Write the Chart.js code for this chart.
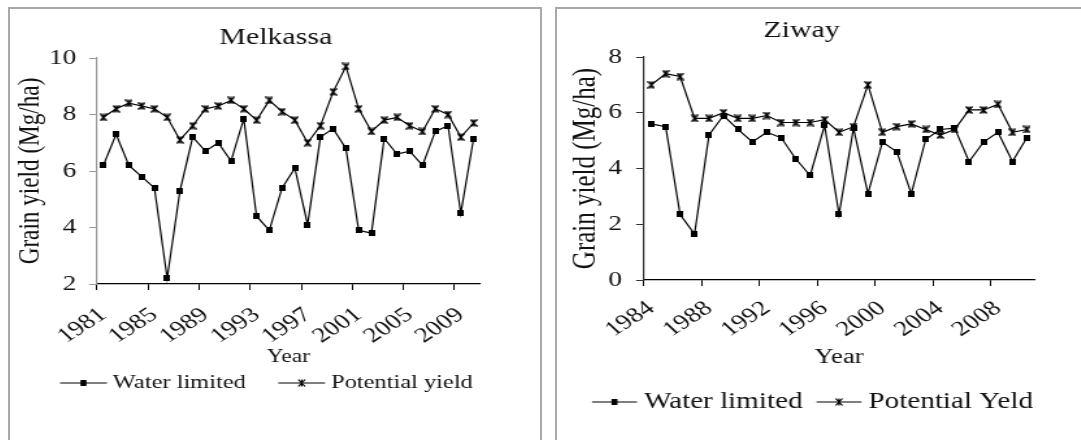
<!DOCTYPE html>
<html>
<head>
<meta charset="utf-8">
<title>Grain yield - Melkassa and Ziway</title>
<script src="https://cdn.jsdelivr.net/npm/chart.js"></script>
<style>
    body {
        margin: 0;
        background: #fff;
        width: 1081px;
        height: 440px;
        overflow: hidden;
        position: relative;
    }
    .box {
        position: absolute;
        top: 7px;
        height: 460px;
        border: 2px solid #a9a9a9;
        box-sizing: border-box;
        overflow: hidden;
    }
    #boxLeft { left: 8px; width: 534px; }
    #boxRight { left: 555px; width: 560px; }
    /* charts are drawn narrow and stretched sideways */
    canvas {
        position: absolute;
        left: 0;
        top: 0;
        transform: scaleX(1.3);
        transform-origin: 0 0;
    }
</style>
<script>
    // Melkassa 1981-2010
    const melkassaYears = ['1981','1982','1983','1984','1985','1986','1987','1988','1989','1990',
        '1991','1992','1993','1994','1995','1996','1997','1998','1999','2000',
        '2001','2002','2003','2004','2005','2006','2007','2008','2009','2010'];
    const melkassaWater = [6.2, 7.3, 6.2, 5.8, 5.4, 2.2, 5.3, 7.2, 6.7, 7.0,
        6.35, 7.85, 4.4, 3.9, 5.4, 6.1, 4.1, 7.2, 7.5, 6.8,
        3.9, 3.8, 7.15, 6.6, 6.7, 6.2, 7.4, 7.6, 4.5, 7.15];
    const melkassaPotential = [7.9, 8.2, 8.4, 8.3, 8.2, 7.9, 7.1, 7.6, 8.2, 8.3,
        8.5, 8.2, 7.8, 8.5, 8.1, 7.8, 7.0, 7.6, 8.8, 9.7,
        8.2, 7.4, 7.8, 7.9, 7.6, 7.4, 8.2, 8.0, 7.2, 7.7];
    const melkassaTicks = [2, 4, 6, 8, 10];

    // Ziway 1984-2010
    const ziwayYears = ['1984','1985','1986','1987','1988','1989','1990','1991','1992','1993',
        '1994','1995','1996','1997','1998','1999','2000','2001','2002','2003',
        '2004','2005','2006','2007','2008','2009','2010'];
    const ziwayWater = [5.6, 5.5, 2.35, 1.65, 5.2, 5.9, 5.4, 4.95, 5.3, 5.1,
        4.35, 3.75, 5.55, 2.35, 5.45, 3.1, 4.95, 4.6, 3.1, 5.05,
        5.4, 5.45, 4.25, 4.95, 5.3, 4.25, 5.1];
    const ziwayPotential = [7.0, 7.4, 7.3, 5.8, 5.8, 6.0, 5.8, 5.8, 5.9, 5.65,
        5.65, 5.65, 5.75, 5.3, 5.5, 7.0, 5.3, 5.5, 5.6, 5.4,
        5.2, 5.4, 6.1, 6.1, 6.3, 5.3, 5.4];
    const ziwayTicks = [0, 2, 4, 6, 8];

    const SERIF = '"Liberation Serif", "Times New Roman", serif';
    const INK = '#111';

    // asterisk marker: an X with a vertical bar
    function drawStar(g, cx, cy, rx, ry) {
        g.beginPath();
        g.moveTo(cx - rx, cy - ry); g.lineTo(cx + rx, cy + ry);
        g.moveTo(cx + rx, cy - ry); g.lineTo(cx - rx, cy + ry);
        g.moveTo(cx, cy - ry); g.lineTo(cx, cy + ry);
        g.stroke();
    }

    function starImage(w, h) {
        const c = document.createElement('canvas');
        c.width = w; c.height = h;
        const g = c.getContext('2d');
        g.strokeStyle = '#000';
        g.lineWidth = 1.3;
        drawStar(g, w / 2, h / 2, w / 2 - 0.5, h / 2 - 0.5);
        return c;
    }

    function squareImage(w, h) {
        const c = document.createElement('canvas');
        c.width = w; c.height = h;
        const g = c.getContext('2d');
        g.fillStyle = '#000';
        g.fillRect(0, 0, w, h);
        return c;
    }

    // legend: short line with the series marker, then the label
    const lineLegend = {
        id: 'lineLegend',
        afterDraw(chart, args, opts) {
            const g = chart.ctx;
            let x = opts.x;
            const y = opts.y;
            g.save();
            g.font = opts.size + 'px ' + SERIF;
            g.textBaseline = 'middle';
            g.textAlign = 'left';
            chart.data.datasets.forEach(function(ds, i) {
                g.strokeStyle = '#000';
                g.lineWidth = 1.2;
                g.beginPath();
                g.moveTo(x, y); g.lineTo(x + opts.lineLen, y);
                g.stroke();
                const mx = x + opts.lineLen / 2;
                if (i === 0) {
                    g.fillStyle = '#000';
                    g.fillRect(mx - 2.3, y - 3, 4.6, 6);
                } else {
                    drawStar(g, mx, y, 2.6, 3.5);
                }
                const tx = x + opts.lineLen + opts.textGap;
                g.fillStyle = INK;
                g.fillText(ds.label, tx, y);
                x = tx + g.measureText(ds.label).width + opts.itemGap;
            });
            g.restore();
        }
    };

    function makeChart(id, cfg) {
        const ctx = document.getElementById(id).getContext('2d');
        const scales = {
            x: {
                type: 'category',
                offset: true,
                border: { color: '#000', width: 1.2 },
                grid: {
                    offset: true,
                    drawOnChartArea: false,
                    tickLength: 6,
                    tickColor: function(c) {
                        return c.index !== undefined && c.index % 4 === 0 ? '#000' : 'rgba(0,0,0,0)';
                    }
                },
                afterFit: function(s) { s.height = cfg.xAxisHeight; },
                ticks: {
                    autoSkip: false,
                    minRotation: 40,
                    maxRotation: 40,
                    padding: cfg.xTickPad,
                    color: INK,
                    font: { family: SERIF, size: cfg.tickSize },
                    callback: function(v, i) {
                        return i % 4 === 0 ? cfg.years[i] : '';
                    }
                },
                title: {
                    display: true,
                    text: 'Year',
                    color: INK,
                    font: { family: SERIF, size: cfg.axisTitleSize },
                    padding: { top: 0, bottom: 0 }
                }
            },
            y: {
                min: cfg.yTicks[0],
                max: cfg.yTicks[cfg.yTicks.length - 1],
                border: { color: cfg.yLineColor, width: 1.2 },
                grid: { drawOnChartArea: false, tickLength: 6, tickColor: cfg.yLineColor },
                afterBuildTicks: function(axis) {
                    axis.ticks = cfg.yTicks.map(function(v) { return { value: v }; });
                },
                afterFit: function(s) { s.width = cfg.yAxisWidth; },
                ticks: {
                    padding: cfg.yTickPad,
                    color: INK,
                    font: { family: SERIF, size: cfg.tickSize }
                },
                title: {
                    display: true,
                    text: 'Grain yield (Mg/ha)',
                    color: INK,
                    font: { family: SERIF, size: cfg.yTitleSize },
                    padding: { top: cfg.yTitlePad, bottom: 0 }
                }
            }
        };
        if (cfg.rightGap) {
            // empty strip to the right of the plot
            scales.gap = {
                type: 'linear',
                position: 'right',
                grid: { display: false },
                border: { display: false },
                ticks: { display: false },
                afterFit: function(s) { s.width = cfg.rightGap; }
            };
        }
        return new Chart(ctx, {
            type: 'line',
            data: {
                labels: cfg.years,
                datasets: [{
                    label: 'Water limited',
                    data: cfg.water,
                    borderColor: '#000',
                    borderWidth: 1.2,
                    pointStyle: squareImage(5, 6),
                    tension: 0
                }, {
                    label: cfg.potentialLabel,
                    data: cfg.potential,
                    borderColor: '#000',
                    borderWidth: 1.2,
                    pointStyle: starImage(6, 8),
                    tension: 0
                }]
            },
            options: {
                responsive: false,
                animation: false,
                devicePixelRatio: 1,
                layout: { padding: cfg.padding },
                plugins: {
                    title: {
                        display: true,
                        text: cfg.title,
                        color: INK,
                        font: { family: SERIF, size: cfg.titleSize, weight: 'normal' },
                        padding: cfg.titlePad
                    },
                    legend: { display: false },
                    tooltip: { enabled: false },
                    lineLegend: cfg.legend
                },
                scales: scales
            },
            plugins: [lineLegend]
        });
    }

    document.addEventListener('DOMContentLoaded', function() {
        makeChart('melkassa', {
            title: 'Melkassa',
            years: melkassaYears,
            water: melkassaWater,
            potential: melkassaPotential,
            potentialLabel: 'Potential yield',
            yTicks: melkassaTicks,
            padding: { top: 15.2, left: 0, right: 0, bottom: 36.2 },
            rightGap: 47.5,
            titleSize: 23, titlePad: { top: 0, bottom: 6.2 },
            tickSize: 21, axisTitleSize: 18, yTitleSize: 23.2, yTitlePad: 2,
            xAxisHeight: 83.8, xTickPad: 12.5,
            yAxisWidth: 66.9, yTickPad: 10, yLineColor: '#999',
            legend: { x: 38.5, y: 374, lineLen: 36, textGap: 4.6, itemGap: 25, size: 18.8 }
        });
        makeChart('ziway', {
            title: 'Ziway',
            years: ziwayYears,
            water: ziwayWater,
            potential: ziwayPotential,
            potentialLabel: 'Potential Yeld',
            yTicks: ziwayTicks,
            padding: { top: 8.2, left: 7.3, right: 39, bottom: 48.7 },
            rightGap: 2,
            titleSize: 23, titlePad: { top: 0, bottom: 12.2 },
            tickSize: 21, axisTitleSize: 20.5, yTitleSize: 25, yTitlePad: 0,
            xAxisHeight: 90.3, xTickPad: 10,
            yAxisWidth: 59.6, yTickPad: 11, yLineColor: '#333',
            legend: { x: 26.9, y: 393, lineLen: 34.6, textGap: 5.4, itemGap: 10.8, size: 22.4 }
        });
    });
</script>
</head>
<body>
    <div class="box" id="boxLeft"><canvas id="melkassa" width="409" height="395"></canvas></div>
    <div class="box" id="boxRight"><canvas id="ziway" width="408.7" height="410"></canvas></div>
</body>
</html>
